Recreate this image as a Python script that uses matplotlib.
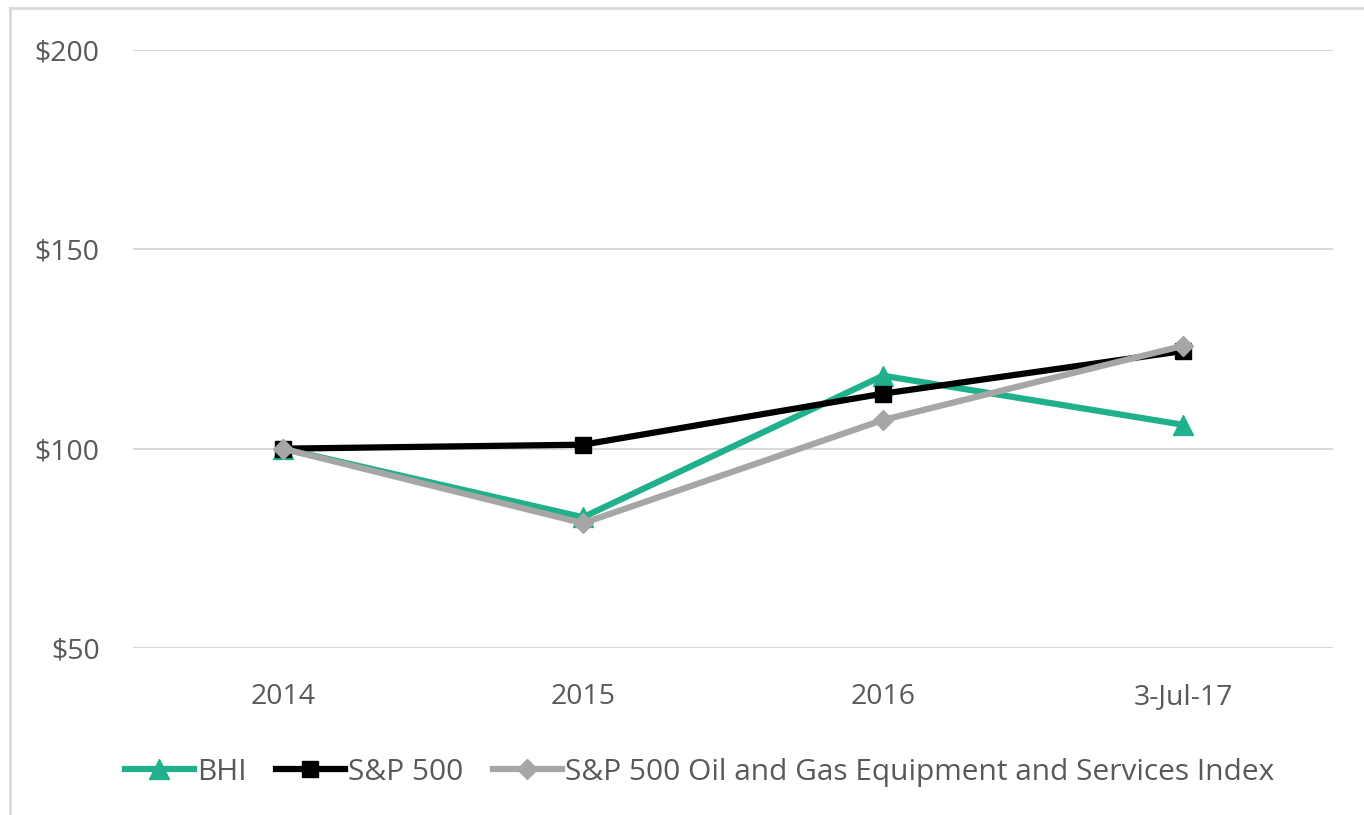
import numpy as np
import matplotlib.pyplot as plt
from matplotlib.lines import Line2D

# data
periods = ['2014', '2015', '2016', '3-Jul-17']
bhi = [100, 82.8, 118.3, 106]
sp500 = [100, 101, 113.8, 124.5]
oil_gas = [100, 81.3, 107.2, 125.8]
y_ticks = [50, 100, 150, 200]

plt.rcParams['font.family'] = ['Open Sans', 'DejaVu Sans']

fig = plt.figure(figsize=(13.64, 8.15), dpi=100)
ax = fig.add_axes([133 / 1364, 1 - 648 / 815, 1200 / 1364, 598 / 815])

x = np.arange(len(periods))
ax.plot(x, bhi, color='#20B08C', lw=4.5, marker='^', ms=14, label='BHI', zorder=3)
ax.plot(x, sp500, color='black', lw=4.5, marker='s', ms=12, label='S&P 500', zorder=4)
ax.plot(x, oil_gas, color='#A6A6A6', lw=4.5, marker='D', ms=10.5,
        label='S&P 500 Oil and Gas Equipment and Services Index', zorder=5)

ax.set_xlim(-0.5, len(periods) - 0.5)
ax.set_ylim(50, 200)
ax.set_yticks(y_ticks)
ax.set_yticklabels([f'${v}' for v in y_ticks])
ax.set_xticks(x)
ax.set_xticklabels(periods)
ax.tick_params(length=0, labelsize=20.5, labelcolor='#595959')
ax.tick_params(axis='y', pad=24)
ax.tick_params(axis='x', pad=25)
ax.grid(axis='y', color='#D9D9D9', lw=1.5)
ax.set_axisbelow(True)
for s in ax.spines.values():
    s.set_visible(False)

leg = ax.legend(loc='center', bbox_to_anchor=(0.472, -0.208), ncol=3, frameon=False,
                fontsize=21.5, handlelength=2.3, handletextpad=0.1, columnspacing=1.0)
for t in leg.get_texts():
    t.set_color('#595959')

# chart frame (top and left edges visible)
fig.add_artist(Line2D([10 / 1364, 10 / 1364], [0, 1 - 8 / 815], color='#D9D9D9', lw=2))
fig.add_artist(Line2D([10 / 1364, 1], [1 - 8 / 815, 1 - 8 / 815], color='#D9D9D9', lw=2))

fig.savefig('out.png', dpi=100)
